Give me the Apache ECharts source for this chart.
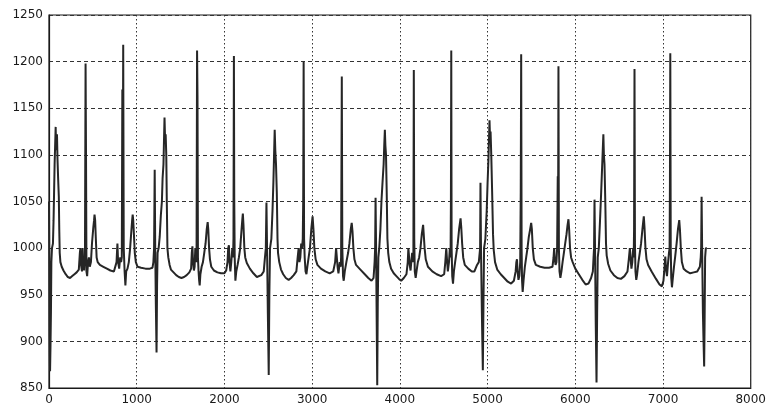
<!DOCTYPE html>
<html>
<head>
<meta charset="utf-8">
<script src="https://cdn.jsdelivr.net/npm/echarts@6/dist/echarts.min.js"></script>
<style>
  html, body { margin: 0; padding: 0; background: #ffffff; }
  #chart { width: 769px; height: 408px; }
</style>
</head>
<body>
<div id="chart"></div>
<script>
// Recorded trace, [sample index, amplitude], one array per group of three beats.
const cycle1 = [[0,1050],[4,990],[8,905],[12,868],[17,895],[22,930],[27,985],[34,1000],[45,1005],[52,1030],[58,1060],[64,1090],[70,1110],[76,1130],[81,1105],[86,1112],[91,1122],[97,1095],[104,1075],[112,1055],[117,1020],[122,995],[130,985],[145,980],[165,976],[190,972],[215,969],[240,968],[265,970],[290,972],[315,974],[340,977],[352,995],[358,1000],[365,982],[376,975],[383,1000],[390,985],[400,976],[410,990],[417,1198],[422,1100],[427,975],[435,970],[445,985],[455,990],[465,980],[478,985],[490,1005],[505,1022],[514,1030],[519,1036],[526,1030],[534,1010],[543,990],[555,985],[580,982],[620,980],[660,978],[700,976],[740,975],[770,985],[780,1005],[788,985],[800,978],[812,990],[822,985],[830,990],[836,1170],[840,1010],[846,1218],[852,1000],[862,975],[871,960],[880,975],[895,978],[910,985],[925,1000],[940,1020],[948,1030],[954,1036],[960,1030],[968,1015],[978,995],[990,985],[1010,980],[1050,979],[1100,978],[1150,978],[1180,979]];
const cycle2 = [[1190,985],[1198,1000],[1205,1084],[1211,1000],[1218,940],[1226,888],[1232,960],[1238,995],[1250,1000],[1262,1012],[1275,1035],[1287,1050],[1295,1075],[1305,1090],[1312,1120],[1317,1140],[1323,1118],[1330,1122],[1337,1100],[1343,1050],[1350,1000],[1360,990],[1375,982],[1390,977],[1420,974],[1450,971],[1480,969],[1510,968],[1540,969],[1570,971],[1600,974],[1620,978],[1628,995],[1635,1002],[1642,985],[1652,976],[1660,980],[1668,1000],[1675,990],[1682,985],[1688,1212],[1693,1162],[1698,990],[1705,975],[1712,965],[1718,960],[1726,972],[1740,980],[1755,985],[1770,995],[1785,1005],[1798,1020],[1809,1028],[1816,1020],[1825,1000],[1835,988],[1850,980],[1880,976],[1920,974],[1960,973],[2000,973],[2020,976],[2035,985],[2043,1000],[2051,1003],[2058,985],[2068,975],[2078,985],[2090,1000],[2098,990],[2103,1010],[2108,1206],[2112,1052],[2117,990],[2125,965],[2135,975],[2150,982],[2165,990],[2180,1000],[2195,1020],[2205,1032],[2210,1037],[2217,1025],[2227,1000],[2237,990],[2255,984],[2290,978],[2330,973],[2370,969],[2391,968],[2420,971],[2448,975]];
const cycle3 = [[2462,990],[2472,1000],[2479,1049],[2486,1000],[2495,930],[2505,864],[2512,950],[2520,1000],[2535,1010],[2548,1040],[2558,1070],[2566,1100],[2573,1127],[2580,1105],[2588,1090],[2597,1060],[2605,1010],[2611,995],[2625,985],[2645,977],[2670,972],[2700,968],[2732,966],[2760,968],[2790,971],[2820,975],[2835,990],[2846,1000],[2855,985],[2865,990],[2875,1005],[2885,1000],[2893,1010],[2898,1050],[2903,1200],[2908,1010],[2915,990],[2925,975],[2935,972],[2945,980],[2960,990],[2975,1000],[2990,1020],[3005,1034],[3015,1020],[3025,1000],[3040,988],[3060,982],[3100,978],[3150,975],[3200,973],[3240,975],[3262,985],[3273,1000],[3281,998],[3290,980],[3300,973],[3315,985],[3325,980],[3330,990],[3338,1184],[3344,1000],[3352,970],[3360,965],[3372,975],[3390,985],[3410,995],[3425,1005],[3440,1020],[3451,1027],[3460,1018],[3470,1000],[3482,988],[3500,982],[3550,977],[3600,972],[3640,968],[3677,965],[3700,968]];
const cycle4 = [[3712,985],[3718,1000],[3723,1054],[3729,1000],[3736,920],[3742,853],[3748,940],[3755,990],[3765,1000],[3778,1020],[3790,1050],[3802,1070],[3815,1090],[3822,1110],[3829,1127],[3835,1110],[3842,1100],[3850,1060],[3858,1010],[3867,995],[3880,985],[3900,978],[3930,973],[3960,970],[3990,967],[4015,965],[4045,968],[4075,972],[4090,985],[4097,1000],[4104,1001],[4112,982],[4122,976],[4130,985],[4140,995],[4148,985],[4154,990],[4159,1191],[4164,1010],[4170,975],[4180,968],[4190,975],[4205,985],[4220,990],[4235,1000],[4250,1015],[4265,1025],[4272,1015],[4282,1000],[4295,988],[4320,980],[4370,975],[4420,972],[4470,970],[4505,972],[4518,985],[4529,1000],[4537,988],[4547,975],[4560,985],[4570,1000],[4578,990],[4582,1050],[4586,1212],[4590,1000],[4597,970],[4606,962],[4616,975],[4630,985],[4645,995],[4660,1005],[4675,1020],[4692,1032],[4700,1022],[4710,1005],[4722,990],[4740,982],[4780,978],[4820,975],[4850,975],[4880,982],[4900,985]];
const cycle5 = [[4910,995],[4915,1000],[4919,1070],[4925,1000],[4935,930],[4946,869],[4953,940],[4960,1000],[4975,1010],[4990,1040],[5000,1070],[5010,1095],[5017,1120],[5022,1137],[5028,1118],[5034,1125],[5042,1100],[5052,1060],[5062,1015],[5070,998],[5085,985],[5110,977],[5150,972],[5190,968],[5230,964],[5268,962],[5300,965],[5320,975],[5328,985],[5335,988],[5342,975],[5352,966],[5362,970],[5372,985],[5378,1060],[5383,1208],[5388,1000],[5393,965],[5400,953],[5410,965],[5425,980],[5440,990],[5455,1000],[5470,1012],[5485,1020],[5497,1027],[5505,1020],[5515,1000],[5528,988],[5550,982],[5600,980],[5650,979],[5700,979],[5740,980],[5752,990],[5759,1000],[5766,988],[5775,982],[5785,985],[5793,1000],[5800,1077],[5803,1000],[5808,1195],[5813,1000],[5820,975],[5830,968],[5842,975],[5855,985],[5870,995],[5885,1005],[5900,1015],[5912,1025],[5922,1031],[5930,1020],[5940,1000],[5952,990],[5970,985],[6000,978],[6040,972],[6080,966],[6118,961],[6150,962],[6180,968],[6200,975]];
const cycle6 = [[6208,990],[6214,1000],[6219,1052],[6225,1000],[6233,920],[6242,856],[6249,930],[6256,990],[6268,1000],[6282,1030],[6295,1060],[6305,1085],[6313,1105],[6320,1122],[6326,1100],[6333,1090],[6342,1050],[6350,1005],[6358,992],[6375,983],[6400,976],[6440,971],[6480,968],[6520,967],[6560,970],[6595,975],[6610,988],[6622,1000],[6630,990],[6640,978],[6650,985],[6660,1000],[6666,990],[6670,1020],[6675,1192],[6680,1005],[6686,975],[6695,966],[6705,972],[6720,985],[6735,995],[6750,1005],[6765,1020],[6781,1034],[6789,1022],[6800,1000],[6812,988],[6830,982],[6870,975],[6920,967],[6960,961],[6988,959],[7005,965],[7018,980],[7026,991],[7034,978],[7045,970],[7058,985],[7068,995],[7075,1000],[7079,1070],[7083,1209],[7088,1000],[7094,968],[7102,958],[7112,968],[7125,980],[7140,992],[7155,1005],[7170,1020],[7185,1030],[7193,1020],[7203,1000],[7215,985],[7235,978],[7270,975],[7310,973],[7350,974],[7390,975],[7420,980]];
const tail = [[7430,990],[7435,1000],[7440,1055],[7446,1000],[7455,930],[7462,900],[7469,873],[7474,920],[7480,990],[7488,1000],[7500,1000]];

const xTicks = [0, 1000, 2000, 3000, 4000, 5000, 6000, 7000, 8000];
const yTicks = [850, 900, 950, 1000, 1050, 1100, 1150, 1200, 1250];

const trace = [].concat(cycle1, cycle2, cycle3, cycle4, cycle5, cycle6, tail);

const labelFont = 'DejaVu Sans, Verdana, sans-serif';
const plain = v => String(v);

const chart = echarts.init(document.getElementById('chart'), null, { renderer: 'canvas' });
chart.setOption({
  backgroundColor: '#ffffff',
  animation: false,
  grid: {
    left: 49, right: 15, top: 15, bottom: 20,
    show: true, borderColor: '#1a1a1a', borderWidth: 1.2, backgroundColor: 'transparent'
  },
  xAxis: {
    type: 'value',
    min: xTicks[0], max: xTicks[xTicks.length - 1], interval: 1000,
    axisLine: { show: true, lineStyle: { color: '#1a1a1a', width: 1.2 } },
    axisTick: { show: false },
    axisLabel: { color: '#1a1a1a', fontSize: 12, fontFamily: labelFont, margin: 6, formatter: plain, showMaxLabel: true, showMinLabel: true },
    splitLine: { show: true, lineStyle: { color: '#333', width: 1, type: [1.5, 2.5] } }
  },
  yAxis: {
    type: 'value',
    min: yTicks[0], max: yTicks[yTicks.length - 1], interval: 50,
    axisLine: { show: true, lineStyle: { color: '#1a1a1a', width: 1.2 } },
    axisTick: { show: false },
    axisLabel: { color: '#1a1a1a', fontSize: 12, fontFamily: labelFont, margin: 6, formatter: plain },
    splitLine: { show: true, lineStyle: { color: '#333', width: 1.2, type: [4, 3] } }
  },
  series: [{
    type: 'line',
    data: trace,
    symbol: 'none',
    lineStyle: { color: '#262626', width: 2 },
    z: 5
  }]
});
</script>
</body>
</html>
